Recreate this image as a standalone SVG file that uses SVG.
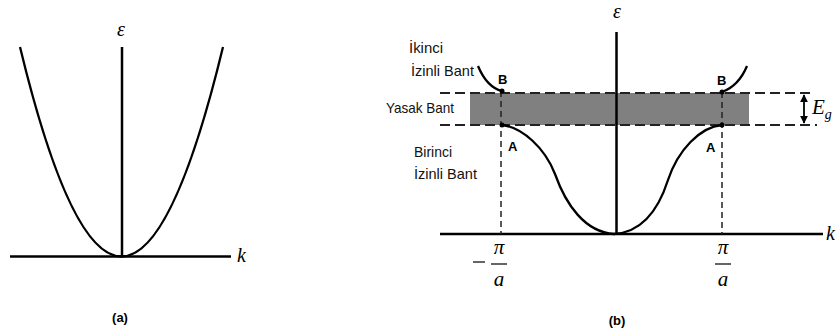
<svg xmlns="http://www.w3.org/2000/svg" width="838" height="334" viewBox="0 0 838 334">
<defs>
<style>
.ax{stroke:#000;stroke-width:2.5;fill:none}
.cv{stroke:#000;stroke-width:2.3;fill:none}
.hd{stroke:#222;stroke-width:2;stroke-dasharray:10 5;fill:none}
.vd{stroke:#222;stroke-width:1.5;stroke-dasharray:6 4;fill:none}
.lb{font-family:"Liberation Sans",Arial,sans-serif;font-size:15px;fill:#111}
.pt{font-family:"Liberation Sans",Arial,sans-serif;font-size:13px;font-weight:bold;fill:#000}
.mt{font-family:"Liberation Serif","Times New Roman",serif;font-style:italic;fill:#000}
.cap{font-family:"Liberation Sans",Arial,sans-serif;font-size:13px;font-weight:bold;fill:#000;text-anchor:middle}
</style>
<marker id="ah" viewBox="0 0 10 10" refX="9" refY="5" markerWidth="8" markerHeight="8" markerUnits="userSpaceOnUse" orient="auto-start-reverse">
<path d="M0,0 L10,5 L0,10 z" fill="#000"/>
</marker>
</defs>

<g id="panel-a">
<line class="ax" x1="10" y1="256.5" x2="231" y2="256.5"/>
<line class="ax" x1="122" y1="47" x2="122" y2="256.5"/>
<path class="cv" d="M20,47 Q121.5,466 223,47"/>
<text class="mt" x="121" y="36" font-size="20" text-anchor="middle">ε</text>
<text class="mt" x="237" y="262" font-size="20">k</text>
<text class="cap" x="120" y="322">(a)</text>
</g>

<g id="band">
<rect x="470" y="93" width="279" height="32" fill="#808080"/>
<line class="hd" x1="440" y1="93" x2="812" y2="93"/>
<line class="hd" x1="440" y1="125" x2="817" y2="125"/>
</g>

<g id="axes-b">
<line class="ax" x1="440" y1="234" x2="823" y2="234"/>
<line class="ax" x1="616.5" y1="32" x2="616.5" y2="234"/>
<line class="vd" x1="501" y1="91" x2="501" y2="234"/>
<line class="vd" x1="722" y1="92" x2="722" y2="234"/>
<text class="mt" x="617" y="18" font-size="20" text-anchor="middle">ε</text>
<text class="mt" x="826" y="240" font-size="20">k</text>
</g>

<g id="curves">
<path class="cv" d="M478,66 C483,78 490,88 502,91"/>
<path class="cv" d="M722,92 C733,88 742,78 747,66"/>
<path class="cv" d="M502,125 C522,127 545,148 555,174 C566,205 585,232 614,234 C645,232 660,205 668,180 C678,150 700,127 722,125"/>
<circle cx="502" cy="91" r="2.5" fill="#000"/>
<circle cx="502" cy="125" r="2.5" fill="#000"/>
<circle cx="722" cy="92" r="2.5" fill="#000"/>
<circle cx="722" cy="125" r="2.5" fill="#000"/>
<text class="pt" x="498" y="84">B</text>
<text class="pt" x="717" y="85">B</text>
<text class="pt" x="508" y="151">A</text>
<text class="pt" x="706" y="152">A</text>
</g>

<g id="labels">
<text class="lb" x="409" y="53" textLength="34" lengthAdjust="spacingAndGlyphs">İkinci</text>
<text class="lb" x="411" y="76" textLength="63" lengthAdjust="spacingAndGlyphs">İzinli Bant</text>
<text class="lb" x="386" y="113" textLength="68" lengthAdjust="spacingAndGlyphs">Yasak Bant</text>
<text class="lb" x="414" y="157" textLength="38" lengthAdjust="spacingAndGlyphs">Birinci</text>
<text class="lb" x="414" y="179" textLength="63" lengthAdjust="spacingAndGlyphs">İzinli Bant</text>
</g>

<g id="eg">
<line x1="804" y1="95" x2="804" y2="123" stroke="#000" stroke-width="1.8" marker-start="url(#ah)" marker-end="url(#ah)"/>
<text class="mt" x="812" y="114" font-size="21">E<tspan font-size="14" dy="5">g</tspan></text>
</g>

<g id="ticks">
<line x1="473" y1="262" x2="485" y2="262" stroke="#000" stroke-width="1.2"/>
<text class="mt" x="499" y="254" font-size="21" text-anchor="middle">π</text>
<line x1="491" y1="264" x2="507" y2="264" stroke="#000" stroke-width="1.2"/>
<text class="mt" x="499" y="286" font-size="21" text-anchor="middle">a</text>
<text class="mt" x="723" y="254" font-size="21" text-anchor="middle">π</text>
<line x1="715" y1="264" x2="731" y2="264" stroke="#000" stroke-width="1.2"/>
<text class="mt" x="723" y="286" font-size="21" text-anchor="middle">a</text>
<text class="cap" x="617" y="325">(b)</text>
</g>
</svg>
